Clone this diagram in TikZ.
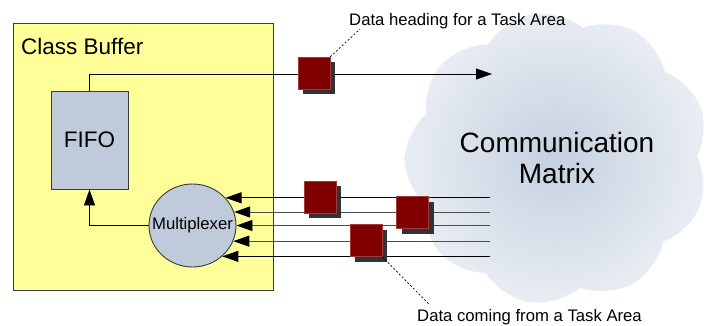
\documentclass[tikz,border=0pt]{standalone}
\usepackage{fontspec}
\setmainfont{Liberation Sans}
\usetikzlibrary{arrows.meta,positioning,calc,shapes.geometric,shapes.symbols,shadows}
\definecolor{bufferyellow}{HTML}{FFFF99}
\definecolor{fifoblue}{HTML}{BFCBDB}
\definecolor{packetred}{HTML}{800000}
\definecolor{packetedge}{HTML}{A33A3A}
\definecolor{cloudin}{HTML}{C5D0E0}
\definecolor{cloudout}{HTML}{E9EDF3}
\definecolor{edgegray}{HTML}{3A3A3A}

\begin{document}
\begin{tikzpicture}[x=1pt,y=-1pt,>={Triangle[length=16pt,width=11pt,color=black]},
  packet/.style={draw=packetedge,fill=packetred,minimum size=32pt,inner sep=0pt,
    drop shadow={shadow xshift=5pt,shadow yshift=-5pt,fill=black!80,opacity=1}},
  feed/.style={->,line width=0.9pt},
  callout/.style={line width=0.7pt,dash pattern=on 2pt off 2pt},
  small/.style={font=\fontsize{16.7}{20}\selectfont,inner sep=0pt},
  big/.style={font=\fontsize{22.5}{26}\selectfont,inner sep=0pt}]
  \useasboundingbox (0,0) rectangle (705,325);
  % communication matrix
  \node[cloud,cloud puffs=9,cloud puff arc=100,cloud ignores aspect,rotate=10,
    minimum width=305pt,minimum height=292pt,inner color=cloudin,outer color=cloudout,
    align=center,font=\fontsize{28}{31}\selectfont] (matrix) at (557,158) {};
  \node[font=\fontsize{28}{31}\selectfont,align=center] (matrixlbl) at (matrix.center) {Communication\\Matrix};
  % class buffer
  \node[draw=edgegray,fill=bufferyellow,line width=0.9pt,anchor=north west,
    minimum width=260pt,minimum height=267pt] (buffer) at (13,23) {};
  \node[big,anchor=west] (title) at (21,46) {Class Buffer};
  \node[draw=edgegray,fill=fifoblue,line width=0.9pt,minimum width=77pt,
    minimum height=98pt,big] (fifo) at (89.5,140) {FIFO};
  \node[ellipse,draw=edgegray,fill=fifoblue,line width=0.9pt,minimum width=87pt,
    minimum height=83pt,inner sep=0pt,label={[small]center:Multiplexer}] (mux) at (192.5,225.5) {};
  % connections
  \coordinate (outtip) at (492,74);
  \draw[feed] (fifo.north) |- (outtip);
  \draw[feed] (mux.west) -| (fifo.south);
  \coordinate (inlet) at (490,0);
  \foreach \a/\c in {40/black,18/black!70,0/black!70,-21/black!70,-46/black}
    \draw[feed,draw=\c] (mux.\a -| inlet) -- (mux.\a);
  % packets
  \node[packet] (pkt0) at (314,73) {};
  \node[packet] (pkt1) at (320,197) {};
  \node[packet] (pkt2) at (412.5,212.5) {};
  \node[packet] (pkt3) at (366,240.5) {};
  % callouts
  \node[small,anchor=base west] (headlbl) at (349,25.5) {Data heading for a Task Area};
  \node[small,anchor=base west] (cominglbl) at (417,321.5) {Data coming from a Task Area};
  \draw[callout] (pkt0.north east) -- ([xshift=11pt]headlbl.south west);
  \draw[callout] (pkt3.south east) -- ([xshift=13pt,yshift=4pt]cominglbl.north west);
\end{tikzpicture}
\end{document}
